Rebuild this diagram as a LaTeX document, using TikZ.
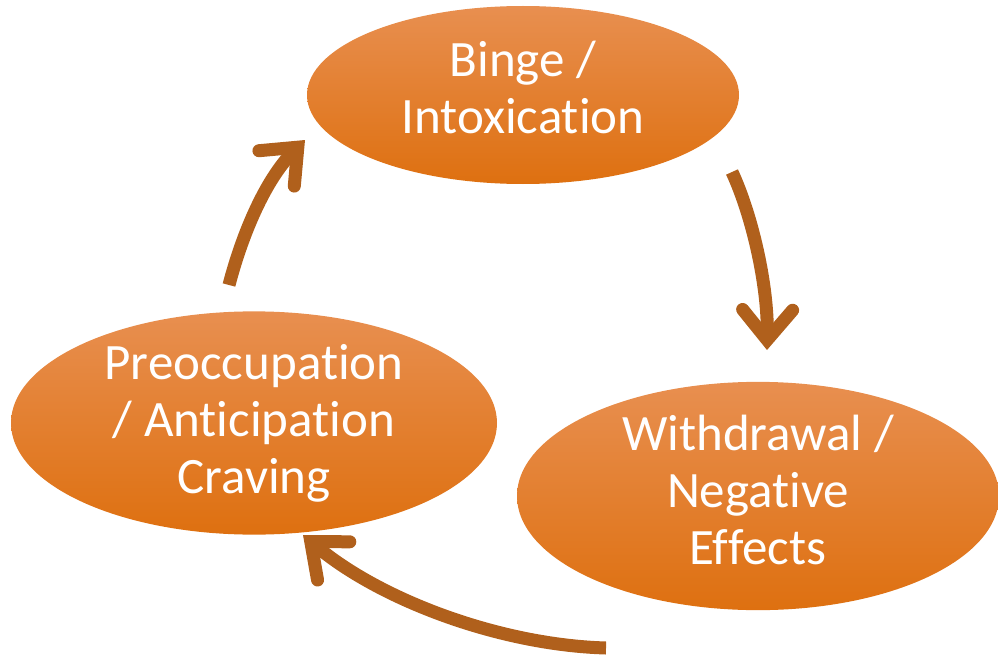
\documentclass[tikz,border=0pt]{standalone}
\usepackage{fontspec}
\setmainfont{Carlito}[Ligatures=NoCommon]
\usetikzlibrary{shapes.geometric, arrows.meta}

\definecolor{stagetop}{RGB}{232,143,80}
\definecolor{stagemid}{RGB}{234,128,36}
\definecolor{stagebot}{RGB}{222,112,16}
\definecolor{arrowbrown}{RGB}{176,96,28}

\begin{document}
\begin{tikzpicture}[x=1pt, y=-1pt]
    \tikzset{
        stage/.style = {ellipse, inner sep=0pt, top color=stagetop, middle color=stagemid, bottom color=stagebot, text=white, align=center, font=\fontsize{51}{57}\selectfont},
        line/.style = {draw=arrowbrown, line width=13pt, -{Straight Barb[length=30pt, width=50pt, line cap=round, line join=miter]}}
    }
    \useasboundingbox (0,0) rectangle (998,658);

    \node[stage, minimum width=432pt, minimum height=178pt, text depth=16pt] (binge) at (523,95) {Binge /\\Intoxication};
    \node[stage, minimum width=482pt, minimum height=222pt, text depth=12pt] (withdrawal) at (758,496) {Withdrawal /\\Negative\\Effects};
    \node[stage, minimum width=486pt, minimum height=203pt] (preocc) at (254,423) {Preoccupation\\/ Anticipation\\Craving};

    % free ends of the three cycle arrows
    \coordinate (bingeout) at (732,172);
    \coordinate (withdrawalin) at (767,350);
    \coordinate (withdrawalout) at (606,648);
    \coordinate (preoccin) at (303,535);
    \coordinate (preoccout) at (229,285);
    \coordinate (bingein) at (305,140);

    \path[line] (bingeout) .. controls (752,215) and (768,285) .. (withdrawalin);
    \path[line] (withdrawalout) .. controls (500,645) and (380,600) .. (preoccin);
    \path[line] (preoccout) .. controls (242,235) and (265,180) .. (bingein);
\end{tikzpicture}
\end{document}
